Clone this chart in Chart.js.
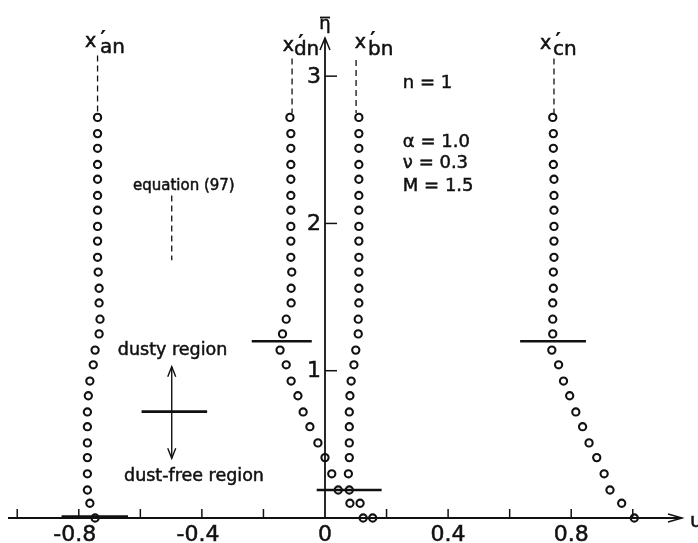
<!DOCTYPE html>
<html>
<head>
<meta charset="utf-8">
<script src="https://cdn.jsdelivr.net/npm/chart.js@4.4.0/dist/chart.umd.min.js"></script>
<style>
  body { margin: 0; background: #fff; }
</style>
</head>
<body>
<canvas id="chart" width="698" height="543"></canvas>
<script>
// eta-bar levels, shared by the four profiles (top to bottom)
var etaLevels = [2.72, 2.61, 2.51, 2.40, 2.30, 2.19, 2.09, 1.98, 1.88, 1.77,
  1.67, 1.56, 1.46, 1.35, 1.25, 1.14, 1.04, 0.93, 0.83, 0.72,
  0.62, 0.51, 0.41, 0.30, 0.19, 0.10, 0.00];

// u values for each profile
var xAn = [-0.739, -0.739, -0.739, -0.739, -0.739, -0.739, -0.739, -0.739, -0.739, -0.739,
  -0.737, -0.734, -0.734, -0.731, -0.734, -0.747, -0.753, -0.764, -0.769, -0.772,
  -0.772, -0.772, -0.772, -0.772, -0.772, -0.764, -0.747];
var xDn = [-0.114, -0.111, -0.111, -0.111, -0.111, -0.111, -0.111, -0.111, -0.111, -0.111,
  -0.108, -0.110, -0.110, -0.126, -0.138, -0.146, -0.126, -0.110, -0.088, -0.071,
  -0.049, -0.023, 0.000, 0.022, 0.043, 0.081, 0.124];
var xBn = [0.110, 0.110, 0.110, 0.110, 0.110, 0.110, 0.110, 0.110, 0.110, 0.110,
  0.110, 0.110, 0.110, 0.108, 0.108, 0.100, 0.094, 0.085, 0.081, 0.079,
  0.079, 0.079, 0.079, 0.076, 0.079, 0.114, 0.155];
var xCn = [0.740, 0.742, 0.742, 0.742, 0.744, 0.744, 0.744, 0.744, 0.744, 0.744,
  0.742, 0.742, 0.740, 0.740, 0.740, 0.737, 0.759, 0.775, 0.795, 0.815,
  0.837, 0.858, 0.883, 0.907, 0.926, 0.964, 1.005];

var xTickMarks = [-1.0, -0.8, -0.6, -0.4, -0.2, 0.2, 0.4, 0.6, 0.8, 1.0];
var xTickValues = [-0.8, -0.4, 0, 0.4, 0.8];
var xTickLabels = ["-0.8", "-0.4", "0", "0.4", "0.8"];
var yTickValues = [1, 2, 3];
var yTickLabels = ["1", "2", "3"];

var ink = "#111";
var font = '"DejaVu Sans"';

// boundary markers (u from, u to, eta)
var markers = [
  [-0.856, -0.640, 0.01],
  [-0.238, -0.043, 1.2],
  [-0.027, 0.184, 0.19],
  [0.634, 0.848, 1.2],
  [-0.596, -0.383, 0.722]
];
// dashed leaders (u, eta top, eta bottom)
var leaders = [
  [-0.739, 3.14, 2.75],
  [-0.107, 3.12, 2.75],
  [0.101, 3.11, 2.75],
  [0.744, 3.12, 2.75],
  [-0.498, 2.19, 1.75]
];
var seriesNames = [
  { sub: "an", u: -0.780, e: 3.198, su: -0.731, se: 3.157 },
  { sub: "dn", u: -0.137, e: 3.170, su: -0.101, se: 3.143 },
  { sub: "bn", u: 0.097, e: 3.191, su: 0.140, se: 3.143 },
  { sub: "cn", u: 0.699, e: 3.184, su: 0.741, se: 3.143 }
];
var notes = [
  { text: "n = 1", u: 0.253, e: 2.919, size: 18 },
  { text: "α = 1.0", u: 0.253, e: 2.519, size: 18 },
  { text: "ν = 0.3", u: 0.253, e: 2.376, size: 18 },
  { text: "M = 1.5", u: 0.253, e: 2.220, size: 18 },
  { text: "equation (97)", u: -0.624, e: 2.227, size: 15 },
  { text: "dusty region", u: -0.673, e: 1.107, size: 17.5 },
  { text: "dust-free region", u: -0.653, e: 0.251, size: 17.5 }
];

function toPoints(xs) {
  return xs.map(function(u, i) { return { x: u, y: etaLevels[i] }; });
}

function seg(ctx, x1, y1, x2, y2) {
  ctx.beginPath();
  ctx.moveTo(x1, y1);
  ctx.lineTo(x2, y2);
  ctx.stroke();
}

// heavier text, like the inked lettering of the scan
function inkText(ctx, txt, x, y) {
  ctx.fillText(txt, x, y);
  ctx.lineWidth = 0.5;
  ctx.strokeText(txt, x, y);
}

var figurePlugin = {
  id: "figure",
  beforeDatasetsDraw: function(chart) {
    var ctx = chart.ctx;
    var sx = chart.scales.x, sy = chart.scales.y;
    var area = chart.chartArea;
    var px = function(u) { return sx.getPixelForValue(u); };
    var py = function(e) { return sy.getPixelForValue(e); };
    var x0 = px(0), y0 = py(0);

    ctx.save();
    ctx.strokeStyle = ink;
    ctx.fillStyle = ink;
    ctx.lineCap = "butt";

    // axes
    ctx.lineWidth = 1.8;
    seg(ctx, area.left, y0, area.right, y0);
    seg(ctx, x0, y0, x0, area.top);
    ctx.lineWidth = 1.5;
    ctx.beginPath();
    ctx.moveTo(area.right - 14, y0 - 4);
    ctx.lineTo(area.right, y0);
    ctx.lineTo(area.right - 14, y0 + 4);
    ctx.stroke();
    ctx.beginPath();
    ctx.moveTo(x0 - 5, area.top + 12);
    ctx.lineTo(x0, area.top);
    ctx.lineTo(x0 + 5, area.top + 12);
    ctx.stroke();

    // ticks
    xTickMarks.forEach(function(v) { seg(ctx, px(v), y0, px(v), y0 - 9); });
    yTickValues.forEach(function(v) { seg(ctx, x0, py(v), x0 + 12, py(v)); });

    ctx.font = "22px " + font;
    ctx.textBaseline = "alphabetic";
    ctx.textAlign = "left";
    xTickValues.forEach(function(v, i) {
      var lab = xTickLabels[i];
      var digits = lab.replace("-", "");
      var w = ctx.measureText(digits).width;
      var x = px(v) - w / 2;
      if (lab.charAt(0) === "-") x -= ctx.measureText("-").width;
      inkText(ctx, lab, x, 541);
    });
    ctx.textAlign = "right";
    ctx.textBaseline = "middle";
    yTickValues.forEach(function(v, i) {
      inkText(ctx, yTickLabels[i], x0 - 4, py(v) + 1);
    });

    // axis names
    ctx.textBaseline = "alphabetic";
    ctx.textAlign = "center";
    ctx.font = "18px " + font;
    inkText(ctx, "η", x0, 29);
    ctx.lineWidth = 1.8;
    seg(ctx, x0 - 5, 17.5, x0 + 5, 17.5);
    ctx.textAlign = "left";
    ctx.font = "20px " + font;
    inkText(ctx, "u", area.right + 8, 527);

    // boundary markers
    ctx.lineWidth = 2.6;
    markers.forEach(function(m) { seg(ctx, px(m[0]), py(m[2]), px(m[1]), py(m[2])); });

    // double arrow between the regions
    var ax = px(-0.498), aTop = py(1.027), aBot = py(0.405);
    ctx.lineWidth = 1.4;
    seg(ctx, ax, aTop, ax, aBot);
    ctx.beginPath();
    ctx.moveTo(ax - 4, aTop + 10); ctx.lineTo(ax, aTop); ctx.lineTo(ax + 4, aTop + 10);
    ctx.moveTo(ax - 4, aBot - 10); ctx.lineTo(ax, aBot); ctx.lineTo(ax + 4, aBot - 10);
    ctx.stroke();

    // dashed leaders
    ctx.lineWidth = 1.3;
    ctx.setLineDash([6, 4]);
    leaders.forEach(function(l) { seg(ctx, px(l[0]), py(l[1]), px(l[0]), py(l[2])); });
    ctx.setLineDash([]);

    // profile names x'an, x'dn, x'bn, x'cn
    seriesNames.forEach(function(s) {
      ctx.font = "19px " + font;
      inkText(ctx, "x", px(s.u), py(s.e));
      var w = ctx.measureText("x").width;
      ctx.font = "bold 22px " + font;
      ctx.fillText("′", px(s.u) + w + 4, py(s.e) - 1);
      ctx.font = "20px " + font;
      inkText(ctx, s.sub, px(s.su), py(s.se));
    });
    notes.forEach(function(n) {
      ctx.font = n.size + "px " + font;
      inkText(ctx, n.text, px(n.u), py(n.e));
    });
    ctx.restore();
  }
};

var circleStyle = { showLine: false, clip: false };

new Chart(document.getElementById("chart"), {
  type: "scatter",
  data: {
    datasets: [
      Object.assign({ label: "x'an", data: toPoints(xAn) }, circleStyle),
      Object.assign({ label: "x'dn", data: toPoints(xDn) }, circleStyle),
      Object.assign({ label: "x'bn", data: toPoints(xBn) }, circleStyle),
      Object.assign({ label: "x'cn", data: toPoints(xCn) }, circleStyle)
    ]
  },
  options: {
    responsive: false,
    animation: false,
    devicePixelRatio: 1,
    layout: { padding: { left: 8, right: 16, top: 38, bottom: 25 } },
    elements: {
      point: {
        radius: 3.6,
        hoverRadius: 3.6,
        borderWidth: 2.1,
        borderColor: ink,
        backgroundColor: "rgba(0,0,0,0)"
      }
    },
    plugins: { legend: { display: false }, tooltip: { enabled: false } },
    events: [],
    scales: {
      x: { type: "linear", display: false, min: -1.03, max: 1.16 },
      y: { type: "linear", display: false, min: 0, max: 3.259 }
    }
  },
  plugins: [figurePlugin]
});
</script>
</body>
</html>
